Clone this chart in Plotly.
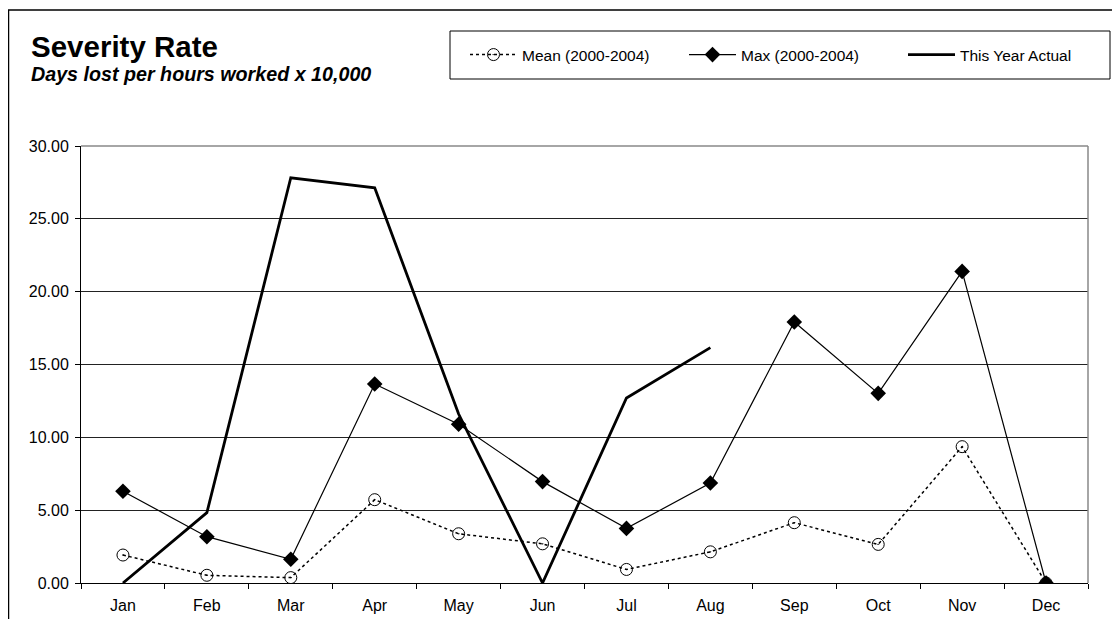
import plotly.graph_objects as go

months = ["Jan", "Feb", "Mar", "Apr", "May", "Jun", "Jul", "Aug", "Sep", "Oct", "Nov", "Dec"]
mean_vals = [1.92, 0.53, 0.37, 5.72, 3.38, 2.69, 0.93, 2.14, 4.14, 2.65, 9.36, 0.0]
max_vals = [6.30, 3.18, 1.63, 13.66, 10.90, 6.96, 3.75, 6.86, 17.92, 13.02, 21.39, 0.0]
actual_months = ["Jan", "Feb", "Mar", "Apr", "May", "Jun", "Jul", "Aug"]
actual_vals = [0.0, 4.83, 27.82, 27.13, 11.6, 0.0, 12.70, 16.16]

OFF = 8  # page body margin
W, H = 1112, 611
L, R, T, B = 81 - OFF, 1088 - OFF, 146 - OFF, 583 - OFF
pw, ph = R - L, B - T


def px(sx):
    return (sx - OFF - L) / pw


def py(sy):
    return (B - (sy - OFF)) / ph


FONT = "Liberation Sans, Arial, sans-serif"

fig = go.Figure()
fig.add_trace(go.Scatter(
    x=months, y=mean_vals, name="Mean (2000-2004)", mode="lines+markers",
    line=dict(color="black", width=1.5, dash="dot"),
    marker=dict(symbol="circle-open-dot", size=12, color="black", line=dict(width=1, color="black")),
))
fig.add_trace(go.Scatter(
    x=months, y=max_vals, name="Max (2000-2004)", mode="lines+markers",
    line=dict(color="black", width=1.2),
    marker=dict(symbol="diamond", size=12, color="black"),
))
fig.add_trace(go.Scatter(
    x=actual_months, y=actual_vals, name="This Year Actual", mode="lines",
    line=dict(color="black", width=2.8),
))

fig.update_layout(
    width=W, height=H,
    margin=dict(l=L, r=W - R, t=T, b=H - B, autoexpand=False),
    paper_bgcolor="white", plot_bgcolor="white",
    font=dict(family=FONT, size=16, color="black"),
    showlegend=True,
    legend=dict(
        orientation="h", x=px(465), y=py(55), xanchor="left", yanchor="middle",
        borderwidth=0, bgcolor="rgba(0,0,0,0)",
        font=dict(family=FONT, size=15.5, color="black"),
        entrywidth=157, entrywidthmode="pixels", itemwidth=47,
    ),
    xaxis=dict(
        type="category", categoryorder="array", categoryarray=months,
        range=[-0.5, 11.5],
        showline=True, linecolor="black", linewidth=1,
        ticks="outside", ticklen=5, tickcolor="black", tickson="boundaries",
        ticklabelstandoff=8,
        showgrid=False, zeroline=False,
        tickfont=dict(size=16),
    ),
    yaxis=dict(
        range=[0, 30], dtick=5, tickformat=".2f",
        showline=True, linecolor="black", linewidth=1,
        ticks="outside", ticklen=5, tickcolor="black", ticklabelstandoff=3,
        showgrid=True, gridcolor="#222222", gridwidth=1,
        zeroline=False, tickfont=dict(size=16),
    ),
    shapes=[
        dict(type="rect", xref="paper", yref="paper", x0=px(8.5), x1=px(1140), y0=py(660), y1=py(10),
             line=dict(color="black", width=1.5), fillcolor="rgba(0,0,0,0)", layer="above"),
        dict(type="rect", xref="paper", yref="paper", x0=px(450), x1=px(1110), y0=py(79), y1=py(31),
             line=dict(color="black", width=1), fillcolor="rgba(0,0,0,0)", layer="above"),
        dict(type="line", xref="paper", yref="paper", x0=0, x1=1, y0=1, y1=1,
             line=dict(color="#888888", width=1.5), layer="above"),
        dict(type="line", xref="paper", yref="paper", x0=1, x1=1, y0=0, y1=1,
             line=dict(color="#888888", width=1.5), layer="above"),
    ],
    annotations=[
        dict(text="<b>Severity Rate</b>", xref="paper", yref="paper", x=px(29), y=py(47),
             xanchor="left", yanchor="middle", showarrow=False,
             font=dict(family=FONT, size=29.5, color="black")),
        dict(text="<b><i>Days lost per hours worked x 10,000</i></b>", xref="paper", yref="paper",
             x=px(29), y=py(74), xanchor="left", yanchor="middle", showarrow=False,
             font=dict(family=FONT, size=19.7, color="black")),
    ],
)

fig.write_html("out.html")
